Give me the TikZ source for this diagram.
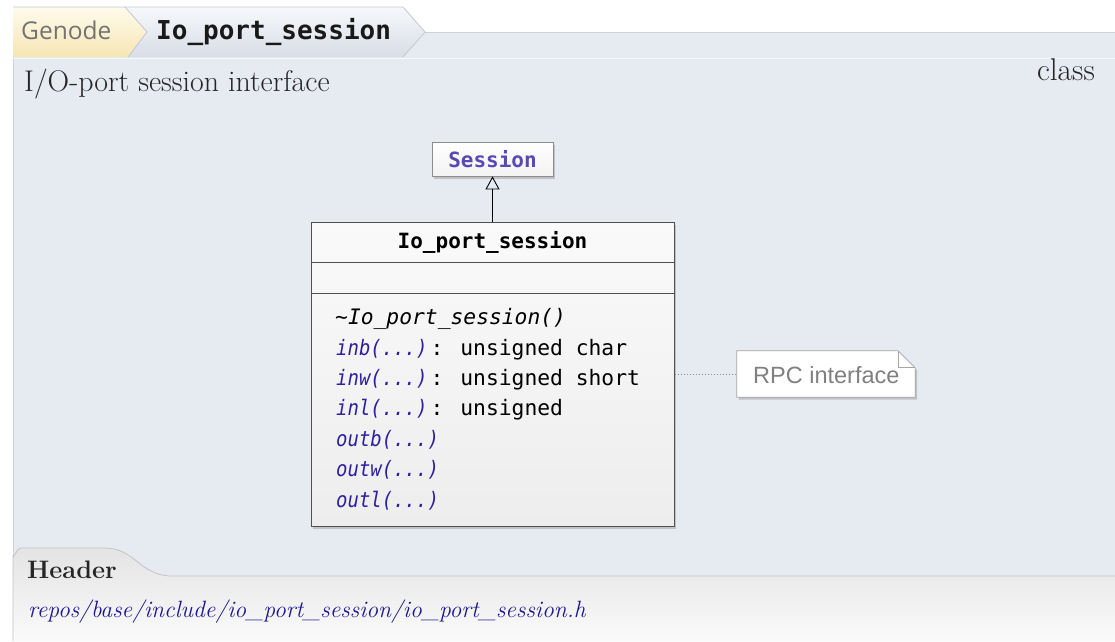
\documentclass[tikz,border=0pt]{standalone}
\usepackage{fontspec}
\usepackage{graphicx}
\newfontfamily\monof{DejaVu Sans Mono}
\newfontfamily\crumbf{Open Sans}
\newfontfamily\arialf{Liberation Sans}
\usetikzlibrary{shadows,arrows.meta}
\definecolor{panel}{HTML}{E6EAF1}
\definecolor{panelline}{HTML}{CDD2DA}
\definecolor{tabtop}{HTML}{F6F8FB}
\definecolor{tabbot}{HTML}{D8DEE7}
\definecolor{gentop}{HTML}{FFFBEC}
\definecolor{genbot}{HTML}{F6E6B4}
\definecolor{tabline}{HTML}{C3C8D0}
\definecolor{methblue}{HTML}{2E1FA0}
\definecolor{sessblue}{HTML}{5A48B4}
\definecolor{linkblue}{HTML}{1C1690}
\definecolor{txt}{HTML}{262626}
\definecolor{boxline}{HTML}{505050}
\definecolor{foottop}{HTML}{E4E4E4}
\definecolor{footbot}{HTML}{FAFAFA}
\definecolor{footline}{HTML}{C4C4C4}
\newcommand{\mname}[1]{\scalebox{0.89}[1]{\color{methblue}\itshape #1}}
\tikzset{
  meth/.style={anchor=base west, inner sep=0pt, font=\monof\fontsize{21.3}{24}\selectfont},
  umlshadow/.style={drop shadow={shadow xshift=2pt, shadow yshift=-2.5pt, opacity=0.3, fill=black!60}},
}
\begin{document}
\begin{tikzpicture}[x=1pt,y=-1pt]
\useasboundingbox (0,0) rectangle (1115,641);
% main panel
\fill[panel] (13,32) rectangle (1115,641);
\draw[panelline, line width=0.8pt] (13,641) -- (13,32) -- (1115,32);
\draw[white, opacity=0.7, line width=0.8pt] (13,58) -- (1115,58);
% breadcrumb tabs
\shade[top color=gentop, bottom color=genbot] (13,7) -- (125,7) -- (147,32) -- (128,57) -- (13,57) -- cycle;
\shade[top color=tabtop, bottom color=tabbot] (125,7) -- (403,7) -- (425,32) -- (403,57) -- (128,57) -- (147,32) -- cycle;
\draw[tabline, line width=0.8pt] (13,7) -- (403,7) -- (425,32) -- (403,57);
\draw[tabline, line width=0.8pt] (125,7) -- (147,32) -- (128,57);
\node[anchor=base west, inner sep=0pt, text=black!55, font=\crumbf\fontsize{24.5}{28}\selectfont] (genode) at (21,39) {Genode};
\node[anchor=base west, inner sep=0pt, text=black!90, font=\monof\bfseries\fontsize{26}{30}\selectfont] (crumb) at (156,39) {Io\_port\_session};
% description and kind
\node[anchor=base west, inner sep=0pt, text=txt, font=\fontsize{29.9}{32}\selectfont] (desc) at (24,91) {I/O-port session interface};
\node[anchor=base east, inner sep=0pt, text=txt, font=\fontsize{31.5}{34}\selectfont] (kind) at (1095,80) {class};
% Session box
\node[draw=black!45, line width=0.8pt, fill=white, shading=axis, top color=white, bottom color=black!5, umlshadow,
      minimum width=121pt, minimum height=34pt, inner sep=0pt] (session) at (492.5,159) {};
\node[anchor=base, inner sep=0pt, text=sessblue, font=\monof\bfseries\fontsize{21}{24}\selectfont] (sesstext) at (session.center |- 0,167) {Session};
% class box
\node[draw=boxline, line width=1pt, top color=black!2, bottom color=black!7, umlshadow,
      minimum width=363pt, minimum height=304pt, inner sep=0pt] (cls) at (492.5,374) {};
\draw[boxline, line width=1pt] (cls.west |- 0,262) -- (cls.east |- 0,262);
\draw[boxline, line width=1pt] (cls.west |- 0,293) -- (cls.east |- 0,293);
\node[anchor=base, inner sep=0pt, font=\monof\bfseries\fontsize{21}{24}\selectfont] (title) at (cls.center |- 0,248) {Io\_port\_session};
\node[meth] (m1) at (335,324) {\itshape\textasciitilde Io\_port\_session()};
\node[meth] (m2) at (336,355) {\mname{inb(...)}\hspace{3pt}: unsigned char};
\node[meth] (m3) at (336,385) {\mname{inw(...)}\hspace{3pt}: unsigned short};
\node[meth] (m4) at (336,415) {\mname{inl(...)}\hspace{3pt}: unsigned};
\node[meth] (m5) at (336,446) {\mname{outb(...)}};
\node[meth] (m6) at (336,476) {\mname{outw(...)}};
\node[meth] (m7) at (336,507) {\mname{outl(...)}};
% generalization arrow
\draw[line width=0.9pt, -{Triangle[open, length=13pt, width=14pt]}] (cls.north) -- (session.south);
% note
\node[minimum width=178pt, minimum height=46pt, inner sep=0pt] (note) at (826,374) {};
\filldraw[draw=black!35, line width=0.8pt, fill=white, umlshadow]
  (note.south west) -- (note.north west) -- ([xshift=-17pt]note.north east) -- ([yshift=-17pt]note.north east) -- (note.south east) -- cycle;
\draw[black!35, line width=0.8pt] ([xshift=-17pt]note.north east) -- ([xshift=-17pt,yshift=-17pt]note.north east) -- ([yshift=-17pt]note.north east);
\node[anchor=base west, inner sep=0pt, text=black!50, font=\arialf\fontsize{23.5}{28}\selectfont] (notetext) at (753,383) {RPC interface};
\draw[black!45, line width=1pt, dotted] (cls.east |- note.west) -- (note.west);
% footer
\shade[top color=foottop, bottom color=footbot]
  (13,641) -- (13,556) to[out=-90,in=180] (21,548) -- (105,548) .. controls (135,548) and (140,576) .. (172,576) -- (1115,576) -- (1115,641) -- cycle;
\draw[footline, line width=0.8pt]
  (13,641) -- (13,556) to[out=-90,in=180] (21,548) -- (105,548) .. controls (135,548) and (140,576) .. (172,576) -- (1115,576);
\node[anchor=base west, inner sep=0pt, text=txt, font=\bfseries\fontsize{25.3}{28}\selectfont] (hdr) at (27,578) {Header};
\node[anchor=base west, inner sep=0pt, text=linkblue, font=\itshape\fontsize{23.6}{28}\selectfont] (path) at (28,617) {repos/base/include/io\_port\_session/io\_port\_session.h};
\end{tikzpicture}
\end{document}
